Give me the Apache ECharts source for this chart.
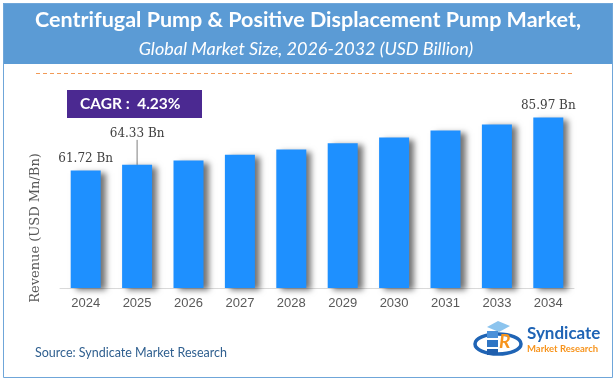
<!DOCTYPE html>
<html><head><meta charset="utf-8">
<script src="https://cdn.jsdelivr.net/npm/echarts@6/dist/echarts.min.js"></script>
<style>html,body{margin:0;padding:0;background:#fff}#c{width:616px;height:383px}</style>
</head><body><div id="c"></div>
<script>
const categories = ['2024','2025','2026','2027','2028','2029','2030','2031','2033','2034'];
const revenue = [61.72, 64.33, 66.3, 69.0, 71.3, 74.2, 76.8, 80.0, 82.8, 85.97];
const labelled = [0, 1, 9];
const titleText = 'Centrifugal Pump & Positive Displacement Pump Market,';
const subtitleText = 'Global Market Size, 2026-2032 (USD Billion)';
const cagrText = 'CAGR :  4.23%';
const yAxisName = 'Revenue (USD Mn/Bn)';
const sourceText = 'Source: Syndicate Market Research';

const chart = echarts.init(document.getElementById('c'), null, {renderer:'canvas'});
const data = revenue.map((v, i) => ({
  value: v,
  label: { show: labelled.includes(i) },
  labelLine: { show: i === 1, lineStyle: { color: '#7f7f7f', width: 1 }, length2: 0 }
}));
chart.setOption({
  animation: false,
  backgroundColor: '#fff',
  grid: { left: 60, right: 42, top: 100, bottom: 95 },
  xAxis: {
    type: 'category', data: categories,
    axisLine: { lineStyle: { color: '#d9d9d9' } },
    axisTick: { show: false },
    axisLabel: { color: '#595959', fontFamily: 'Liberation Sans', fontSize: 13, margin: 9 }
  },
  yAxis: {
    type: 'value', min: 8, max: 94,
    axisLine: { show: false }, axisTick: { show: false },
    axisLabel: { show: false }, splitLine: { show: false }
  },
  series: [{
    type: 'bar', data: data, barWidth: 30,
    itemStyle: { color: '#1e90ff', shadowColor: 'rgba(0,0,0,0.55)', shadowBlur: 6, shadowOffsetX: 5, shadowOffsetY: 2 },
    label: { position: 'top', distance: 6, color: '#404040', fontFamily: 'DejaVu Serif', fontSize: 12,
      formatter: p => p.value.toFixed(2) + ' Bn' },
    labelLayout: p => p.dataIndex === 1 ? { dy: -19 } : {}
  }],
  graphic: [
    { type: 'rect', shape: { x: 3.5, y: 3.5, width: 609, height: 374 }, style: { fill: 'none', stroke: '#6fa6d9', lineWidth: 1 }, z: 10 },
    { type: 'rect', shape: { x: 3, y: 3, width: 610, height: 61 }, style: { fill: '#5b9bd5' }, z: 5 },
    { type: 'text', x: 308, y: 20, style: { text: titleText, fill: '#fff', font: 'bold 21.5px Lato', textAlign: 'center', textVerticalAlign: 'middle' }, z: 6 },
    { type: 'text', x: 306, y: 49, style: { text: subtitleText, fill: '#fff', font: 'italic 18px Lato', textAlign: 'center', textVerticalAlign: 'middle' }, z: 6 },
    { type: 'line', shape: { x1: 36, y1: 73.5, x2: 575, y2: 73.5 }, style: { stroke: '#f29a56', lineWidth: 1, lineDash: [4, 3] }, z: 5 },
    { type: 'rect', shape: { x: 67, y: 90, width: 135, height: 28 }, style: { fill: '#4b2991' }, z: 5 },
    { type: 'text', x: 80, y: 104, style: { text: cagrText, fill: '#fff', font: 'bold 15.5px Lato', textVerticalAlign: 'middle' }, z: 6 },
    { type: 'text', x: 36, y: 228, rotation: Math.PI / 2, style: { text: yAxisName, fill: '#595959', font: '13px "DejaVu Serif"', textAlign: 'center', textVerticalAlign: 'middle' }, z: 6 },
    { type: 'text', x: 35, y: 353, style: { text: sourceText, fill: '#2f5f8f', font: '12.5px Lato', textVerticalAlign: 'middle' }, z: 6 },
    // logo
    { type: 'group', z: 6, children: [
      { type: 'ellipse', shape: { cx: 498, cy: 344, rx: 23, ry: 10 }, style: { fill: 'none', stroke: '#1f64b5', lineWidth: 3.5 } },
      { type: 'polygon', shape: { points: [[487,327],[498,321],[510,326],[499,332]] }, style: { fill: '#8cc4ee' } },
      { type: 'rect', shape: { x: 487, y: 331, width: 11, height: 7 }, style: { fill: '#4a90d9' } },
      { type: 'rect', shape: { x: 487, y: 340, width: 11, height: 7 }, style: { fill: '#2f75c4' } },
      { type: 'rect', shape: { x: 487, y: 349, width: 11, height: 6 }, style: { fill: '#1f5fae' } },
      { type: 'text', x: 499, y: 342, style: { text: 'R', fill: '#f7941d', font: 'bold italic 19px Lato', textVerticalAlign: 'middle' } },
      { type: 'text', x: 527, y: 334, style: { text: 'Syndicate', fill: '#1f64b5', font: 'bold 17px Lato', textVerticalAlign: 'middle' } },
      { type: 'text', x: 527, y: 349, style: { text: 'Market Research', fill: '#f7941d', font: 'bold 9.5px Lato', textVerticalAlign: 'middle' } }
    ]}
  ]
});
</script></body></html>
